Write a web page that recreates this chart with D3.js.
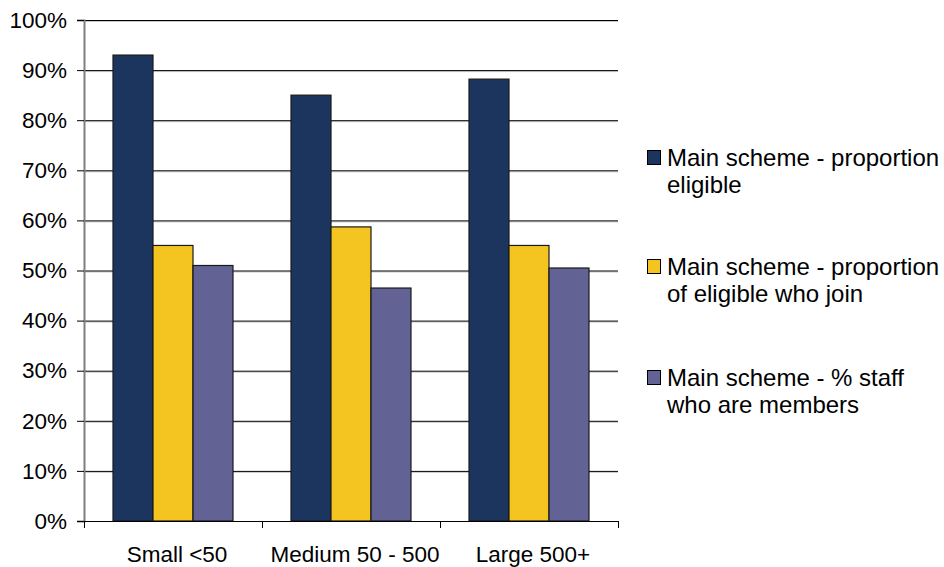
<!DOCTYPE html>
<html>
<head>
<meta charset="utf-8">
<script src="https://cdn.jsdelivr.net/npm/d3@7"></script>
<style>
  html, body { margin: 0; padding: 0; background: #fff; }
  svg { display: block; font-family: "Liberation Sans", Arial, sans-serif; }
</style>
</head>
<body>
<svg id="chart" width="944" height="567"></svg>
<script>
// Employer size bands
const categories = ["Small <50", "Medium 50 - 500", "Large 500+"];
// Series names (legend text, split into lines)
const seriesNames = [
  ["Main scheme - proportion", "eligible"],
  ["Main scheme - proportion", "of eligible who join"],
  ["Main scheme - % staff", "who are members"]
];
// Values in percent, one array per series, ordered like categories
const eligible = [93, 85, 88.2];
const joinRate = [55, 58.7, 55];
const members  = [51, 46.5, 50.5];
const seriesValues = [eligible, joinRate, members];
const yTicks = [0, 10, 20, 30, 40, 50, 60, 70, 80, 90, 100];
const colors = ["#1b355f", "#f4c520", "#626294"];

const svg = d3.select("#chart");
const plotLeft = 84, plotRight = 618, plotTop = 20, plotBottom = 521;

const y = d3.scaleLinear().domain([0, 100]).range([plotBottom, plotTop]);
const x0 = d3.scaleBand().domain(categories).range([plotLeft, plotRight]).paddingInner(0).paddingOuter(0);
const x1 = d3.scaleBand().domain(d3.range(seriesValues.length))
  .range([29, x0.bandwidth() - 29]);

// gridlines with faint shadow
const grid = svg.append("g");
grid.selectAll("line.shadow").data(yTicks.filter(d => d > 0)).join("line")
  .attr("class", "shadow")
  .attr("x1", plotLeft).attr("x2", plotRight)
  .attr("y1", d => y(d) + 1.5).attr("y2", d => y(d) + 1.5)
  .attr("stroke", "#c8c8c8").attr("stroke-width", 1);
grid.selectAll("line.main").data(yTicks.filter(d => d > 0)).join("line")
  .attr("class", "main")
  .attr("x1", plotLeft).attr("x2", plotRight)
  .attr("y1", d => y(d) + 0.5).attr("y2", d => y(d) + 0.5)
  .attr("stroke", "#000").attr("stroke-width", 1);

// bars
const groups = svg.append("g").selectAll("g").data(categories).join("g")
  .attr("transform", c => `translate(${x0(c)},0)`);
groups.selectAll("rect")
  .data((c, i) => seriesValues.map((vals, s) => ({ s, v: vals[i] })))
  .join("rect")
  .attr("x", d => x1(d.s))
  .attr("y", d => y(d.v))
  .attr("width", x1.bandwidth())
  .attr("height", d => plotBottom - y(d.v))
  .attr("fill", d => colors[d.s])
  .attr("stroke", "#1a1a1a").attr("stroke-width", 1.2);

// y axis
const yAxis = d3.axisLeft(y).tickValues(yTicks).tickFormat(d => d + "%").tickSize(7).tickPadding(10);
const ya = svg.append("g").attr("transform", `translate(${plotLeft},0)`).call(yAxis);
ya.select(".domain").attr("stroke", "#7f7f7f").attr("stroke-width", 2);
ya.selectAll(".tick line").attr("stroke", "#000");
ya.selectAll(".tick text").attr("font-size", 22.5).attr("fill", "#000")
  .attr("font-family", "Liberation Sans, Arial, sans-serif");

// x axis
const xa = svg.append("g").attr("transform", `translate(0,${plotBottom})`);
xa.append("line").attr("x1", plotLeft - 7).attr("x2", plotRight).attr("y1", 0.5).attr("y2", 0.5).attr("stroke", "#000");
xa.selectAll("line.tk").data(d3.range(categories.length + 1)).join("line")
  .attr("class", "tk")
  .attr("x1", i => plotLeft + i * x0.step() + 0.5).attr("x2", i => plotLeft + i * x0.step() + 0.5)
  .attr("y1", 0).attr("y2", 7).attr("stroke", "#000");
xa.selectAll("text").data(categories).join("text")
  .attr("x", c => x0(c) + x0.bandwidth() / 2 + 4)
  .attr("y", 41)
  .attr("text-anchor", "middle")
  .attr("font-size", 22.5)
  .text(c => c);

// legend
const legendBaseline = [166, 275, 386];
const lg = svg.append("g").selectAll("g").data(seriesNames).join("g")
  .attr("transform", (d, i) => `translate(647,${legendBaseline[i]})`);
lg.append("rect").attr("x", 0.5).attr("y", -15.5).attr("width", 13).attr("height", 14)
  .attr("fill", (d, i) => colors[i]).attr("stroke", "#000");
lg.append("text").attr("font-size", 24)
  .selectAll("tspan").data(d => d).join("tspan")
  .attr("x", 20).attr("dy", (d, i) => i === 0 ? 0 : 27)
  .text(d => d);
</script>
</body>
</html>
